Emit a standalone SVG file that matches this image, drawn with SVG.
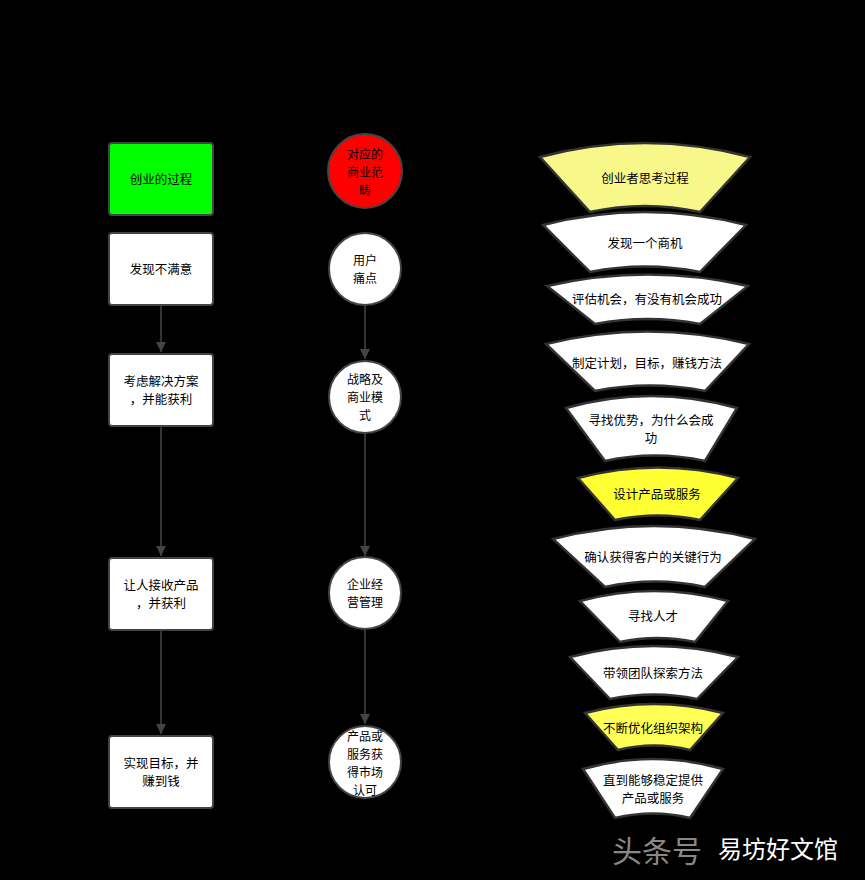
<svg xmlns="http://www.w3.org/2000/svg" width="865" height="880" viewBox="0 0 865 880">
<defs>
<style>
.t{font-family:"Noto Sans CJK SC","Liberation Sans",sans-serif;font-size:12.5px;fill:#000;text-anchor:middle}
.m{font-family:"Noto Sans CJK SC","Liberation Sans",sans-serif;font-size:12px;fill:#000;text-anchor:middle}
.r{stroke:#444;stroke-width:2;fill:#fff}
.c{stroke:#444;stroke-width:2;fill:#fff}
.f{stroke:#333;stroke-width:2.5;fill:#fff}
.e{stroke:#444;stroke-width:1.5;fill:none;marker-end:url(#a)}
</style>
<marker id="a" viewBox="0 0 10 10" refX="10" refY="5" markerWidth="7" markerHeight="7" orient="auto"><path d="M0,0L10,5L0,10z" fill="#444"/></marker>
</defs>
<rect width="865" height="880" fill="#000"/>
<g id="edges">
<line class="e" x1="161" y1="305" x2="161" y2="352"/>
<line class="e" x1="161" y1="426" x2="161" y2="556"/>
<line class="e" x1="161" y1="630" x2="161" y2="734"/>
<line class="e" x1="365" y1="305" x2="365" y2="359"/>
<line class="e" x1="365" y1="433" x2="365" y2="556"/>
<line class="e" x1="365" y1="630" x2="365" y2="724"/>
</g>
<g id="L1"><rect class="r" x="109" y="143" width="104" height="72" rx="3" style="fill:#00ff00"/><text class="t" x="161" y="184">创业的过程</text></g>
<g id="L2"><rect class="r" x="109" y="233" width="104" height="72" rx="3"/><text class="t" x="161" y="274">发现不满意</text></g>
<g id="L3"><rect class="r" x="109" y="354" width="104" height="72" rx="3"/><text class="t" x="161" y="386">考虑解决方案</text><text class="t" x="161" y="404">，并能获利</text></g>
<g id="L4"><rect class="r" x="109" y="558" width="104" height="72" rx="3"/><text class="t" x="161" y="590">让人接收产品</text><text class="t" x="161" y="608">，并获利</text></g>
<g id="L5"><rect class="r" x="109" y="736" width="104" height="72" rx="3"/><text class="t" x="161" y="768">实现目标，并</text><text class="t" x="161" y="786">赚到钱</text></g>
<g id="M1"><circle class="c" cx="365" cy="171" r="37" style="fill:#ff0000"/><text class="m" x="365" y="159">对应的</text><text class="m" x="365" y="177">商业范</text><text class="m" x="365" y="195">畴</text></g>
<g id="M2"><circle class="c" cx="365" cy="269" r="36"/><text class="m" x="365" y="265">用户</text><text class="m" x="365" y="283">痛点</text></g>
<g id="M3"><circle class="c" cx="365" cy="397" r="36"/><text class="m" x="365" y="384">战略及</text><text class="m" x="365" y="402">商业模</text><text class="m" x="365" y="420">式</text></g>
<g id="M4"><circle class="c" cx="365" cy="593" r="36"/><text class="m" x="365" y="589">企业经</text><text class="m" x="365" y="607">营管理</text></g>
<g id="M5"><circle class="c" cx="365" cy="762" r="36"/><text class="m" x="365" y="741">产品或</text><text class="m" x="365" y="759">服务获</text><text class="m" x="365" y="777">得市场</text><text class="m" x="365" y="795">认可</text></g>
<g id="R1"><path class="f" style="fill:#f7f78a" d="M540,157Q645,129 750,157L700,212Q645,200 590,212Z"/><text class="t" x="645" y="183">创业者思考过程</text></g>
<g id="R2"><path class="f" d="M543,225Q645,199 746,225L700,272Q645,261 590,272Z"/><text class="t" x="645" y="248">发现一个商机</text></g>
<g id="R3"><path class="f" d="M547,286Q648,263 748,286L700,324Q648,314 595,324Z"/><text class="t" x="647" y="304">评估机会，有没有机会成功</text></g>
<g id="R4"><path class="f" d="M546,344Q648,319 749,344L705,391Q650,380 595,391Z"/><text class="t" x="647" y="368">制定计划，目标，赚钱方法</text></g>
<g id="R5"><path class="f" d="M566,408Q651,384 737,408L705,461Q655,450 605,461Z"/><text class="t" x="651" y="425">寻找优势，为什么会成</text><text class="t" x="651" y="443">功</text></g>
<g id="R6"><path class="f" style="fill:#ffff33" d="M578,478Q658,457 738,478L700,520Q658,511 615,520Z"/><text class="t" x="657" y="499">设计产品或服务</text></g>
<g id="R7"><path class="f" d="M553,539Q654,513 755,539L705,587Q655,576 605,587Z"/><text class="t" x="653" y="562">确认获得客户的关键行为</text></g>
<g id="R8"><path class="f" d="M580,601Q654,581 728,601L695,642Q657,634 620,642Z"/><text class="t" x="653" y="621">寻找人才</text></g>
<g id="R9"><path class="f" d="M570,657Q654,635 738,657L697,699Q654,690 610,699Z"/><text class="t" x="653" y="678">带领团队探索方法</text></g>
<g id="R10"><path class="f" style="fill:#ffff55" d="M585,713Q654,695 723,713L690,750Q654,741 618,750Z"/><text class="t" x="653" y="733">不断优化组织架构</text></g>
<g id="R11"><path class="f" d="M583,769Q653,749 723,769L690,818Q653,809 615,818Z"/><text class="t" x="653" y="785">直到能够稳定提供</text><text class="t" x="653" y="803">产品或服务</text></g>
<g id="wm"><text x="612" y="862" style="font-family:'Noto Sans CJK SC',sans-serif;font-size:30px;fill:#888">头条号</text><text x="718" y="858" style="font-family:'Noto Sans CJK SC',sans-serif;font-size:24px;fill:#fff">易坊好文馆</text></g>
</svg>
